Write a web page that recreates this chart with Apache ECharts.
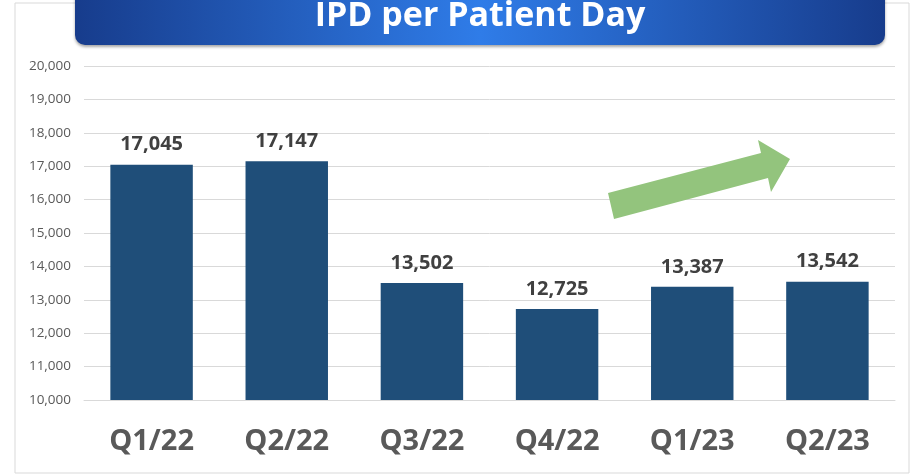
<!DOCTYPE html>
<html>
<head>
<meta charset="utf-8">
<script src="https://cdn.jsdelivr.net/npm/echarts@6/dist/echarts.min.js"></script>
<style>
html,body{margin:0;padding:0;background:#fff;}
#c{width:912px;height:476px;}
</style>
</head>
<body>
<div id="c"></div>
<script>
const categories = ['Q1/22', 'Q2/22', 'Q3/22', 'Q4/22', 'Q1/23', 'Q2/23'];
const ipdValues = [17045, 17147, 13502, 12725, 13387, 13542];
const titleText = 'IPD per Patient Day';
const yMin = 10000, yMax = 20000, yStep = 1000;

const chart = echarts.init(document.getElementById('c'), null, {renderer: 'canvas'});
chart.setOption({
  animation: false,
  backgroundColor: '#ffffff',
  grid: {left: 84, right: 17, top: 66, bottom: 76},
  xAxis: {
    type: 'category',
    data: categories,
    axisLine: {lineStyle: {color: '#d9d9d9', width: 1}},
    axisTick: {show: false},
    axisLabel: {
      margin: 27,
      color: '#595959',
      fontFamily: 'Open Sans',
      fontWeight: 'bold',
      fontSize: 29
    }
  },
  yAxis: {
    type: 'value',
    min: yMin, max: yMax, interval: yStep,
    axisLine: {show: false},
    axisTick: {show: false},
    splitLine: {lineStyle: {color: '#d9d9d9', width: 1}},
    axisLabel: {
      margin: 13,
      color: '#595959',
      fontFamily: 'Open Sans',
      fontSize: 13.5,
      formatter: v => v.toLocaleString('en-US')
    }
  },
  series: [{
    type: 'bar',
    data: ipdValues,
    barWidth: '61%',
    itemStyle: {color: '#1f4e79'},
    label: {
      show: true,
      position: 'top',
      distance: 10,
      color: '#404040',
      fontFamily: 'Open Sans',
      fontWeight: 'bold',
      fontSize: 20,
      formatter: p => p.value.toLocaleString('en-US')
    }
  }],
  graphic: [
    {
      type: 'rect', z: -1,
      shape: {x: 15, y: 3, width: 894, height: 470},
      style: {fill: 'none', stroke: '#d9d9d9', lineWidth: 1}
    },
    {
      type: 'rect', z: 10,
      shape: {x: 75, y: -12, width: 810, height: 57, r: 10},
      style: {
        fill: {
          type: 'linear', x: 0, y: 0, x2: 1, y2: 0,
          colorStops: [
            {offset: 0, color: '#173c8c'},
            {offset: 0.5, color: '#2f7ce8'},
            {offset: 1, color: '#173c8c'}
          ]
        },
        shadowColor: 'rgba(0,0,0,0.35)', shadowBlur: 3, shadowOffsetY: 2
      }
    },
    {
      type: 'text', z: 11,
      x: 480, y: 16,
      style: {
        text: titleText,
        fill: '#ffffff',
        font: 'bold 34px "Open Sans"',
        textAlign: 'center',
        textVerticalAlign: 'middle'
      }
    },
    {
      type: 'polygon', z: 12,
      shape: {points: [[608,193],[761,153],[758,140],[790,159],[771,192],[768,178],[614,219]]},
      style: {fill: '#93c47d'}
    }
  ]
});
</script>
</body>
</html>
